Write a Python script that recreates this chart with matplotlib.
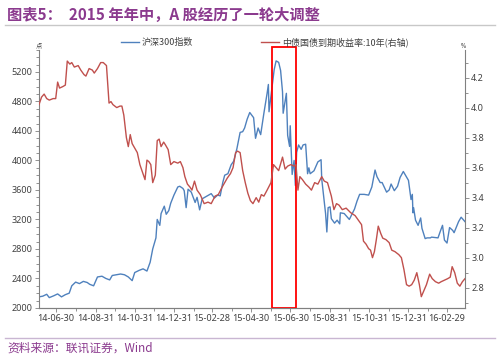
import pandas as pd
import matplotlib
matplotlib.use("Agg")
from matplotlib import pyplot as plt
import matplotlib.dates as mdates
from matplotlib.patches import Rectangle
from matplotlib.ticker import MultipleLocator
import matplotlib.transforms as mtransforms

plt.rcParams['font.family'] = ['Noto Sans', 'Noto Sans CJK SC', 'DejaVu Sans']

# 沪深300指数 (left axis)
hs300_dates = [
    "2014-06-04", "2014-06-10", "2014-06-16", "2014-06-20", "2014-06-27", "2014-07-03",
    "2014-07-09", "2014-07-15", "2014-07-21", "2014-07-25", "2014-07-31", "2014-08-06",
    "2014-08-12", "2014-08-18", "2014-08-22", "2014-08-28", "2014-09-03", "2014-09-10",
    "2014-09-16", "2014-09-22", "2014-09-26", "2014-10-09", "2014-10-15", "2014-10-21",
    "2014-10-27", "2014-10-31", "2014-11-07", "2014-11-13", "2014-11-19", "2014-11-24",
    "2014-11-28", "2014-12-03", "2014-12-05", "2014-12-09", "2014-12-11", "2014-12-16",
    "2014-12-19", "2014-12-23", "2014-12-26", "2014-12-31", "2015-01-06", "2015-01-09",
    "2015-01-14", "2015-01-16", "2015-01-19", "2015-01-22", "2015-01-27", "2015-02-02",
    "2015-02-05", "2015-02-09", "2015-02-13", "2015-02-17", "2015-02-27", "2015-03-04",
    "2015-03-09", "2015-03-13", "2015-03-17", "2015-03-20", "2015-03-25", "2015-03-30",
    "2015-04-03", "2015-04-08", "2015-04-13", "2015-04-17", "2015-04-20", "2015-04-24",
    "2015-04-28", "2015-05-04", "2015-05-07", "2015-05-11", "2015-05-15", "2015-05-20",
    "2015-05-25", "2015-05-27", "2015-05-28", "2015-06-02", "2015-06-05", "2015-06-08",
    "2015-06-12", "2015-06-15", "2015-06-18", "2015-06-19", "2015-06-24", "2015-06-26",
    "2015-06-29", "2015-06-30", "2015-07-02", "2015-07-03", "2015-07-06", "2015-07-08",
    "2015-07-10", "2015-07-13", "2015-07-17", "2015-07-20", "2015-07-24", "2015-07-27",
    "2015-07-29", "2015-07-31", "2015-08-06", "2015-08-12", "2015-08-17", "2015-08-18",
    "2015-08-21", "2015-08-24", "2015-08-26", "2015-08-28", "2015-08-31", "2015-09-02",
    "2015-09-07", "2015-09-11", "2015-09-15", "2015-09-16", "2015-09-22", "2015-09-30",
    "2015-10-08", "2015-10-12", "2015-10-16", "2015-10-23", "2015-10-30", "2015-11-04",
    "2015-11-09", "2015-11-12", "2015-11-17", "2015-11-20", "2015-11-27", "2015-12-01",
    "2015-12-04", "2015-12-09", "2015-12-14", "2015-12-18", "2015-12-23", "2015-12-31",
    "2016-01-04", "2016-01-06", "2016-01-07", "2016-01-08", "2016-01-11", "2016-01-15",
    "2016-01-19", "2016-01-21", "2016-01-26", "2016-01-29", "2016-02-03", "2016-02-05",
    "2016-02-15", "2016-02-19", "2016-02-22", "2016-02-25", "2016-02-29", "2016-03-04",
    "2016-03-09", "2016-03-11", "2016-03-18", "2016-03-22", "2016-03-28",
]
hs300_values = [
    2150, 2160, 2185, 2140, 2165, 2190,
    2150, 2180, 2200, 2300, 2350, 2330,
    2360, 2345, 2320, 2300, 2420, 2430,
    2400, 2380, 2440, 2460, 2450, 2420,
    2370, 2480, 2510, 2530, 2500, 2620,
    2800, 2950, 3200, 3120, 3280, 3380,
    3270, 3320, 3420, 3530, 3640, 3650,
    3620, 3590, 3360, 3610, 3570, 3430,
    3500, 3330, 3480, 3500, 3550, 3490,
    3530, 3520, 3700, 3800, 3820, 3940,
    3990, 4160, 4380, 4390, 4440, 4560,
    4650, 4580, 4300, 4440, 4350, 4640,
    4910, 5030, 4660, 5010, 5230, 5350,
    5330, 5220, 4930, 4640, 4910, 4340,
    4190, 4470, 4050, 3810, 4000, 3660,
    4110, 4210, 4150, 4210, 4220, 3820,
    3900, 3820, 3860, 3980, 4010, 3750,
    3520, 3280, 3030, 3360, 3370, 3210,
    3150, 3190, 3140, 3290, 3280, 3200,
    3340, 3450, 3540, 3540, 3530, 3640,
    3870, 3780, 3700, 3700, 3570, 3600,
    3680, 3590, 3650, 3770, 3850, 3730,
    3470, 3540, 3290, 3360, 3190, 3120,
    3220, 3080, 2940, 2950, 2950, 2960,
    2950, 3050, 3120, 2920, 2880, 3090,
    3050, 3020, 3170, 3230, 3170,
]

# 中债国债到期收益率:10年 (right axis, %)
yield_dates = [
    "2014-06-04", "2014-06-08", "2014-06-12", "2014-06-16", "2014-06-20", "2014-06-26",
    "2014-06-30", "2014-07-03", "2014-07-06", "2014-07-11", "2014-07-15", "2014-07-18",
    "2014-07-22", "2014-07-25", "2014-07-29", "2014-08-04", "2014-08-08", "2014-08-13",
    "2014-08-16", "2014-08-21", "2014-08-26", "2014-08-29", "2014-09-03", "2014-09-08",
    "2014-09-12", "2014-09-17", "2014-09-21", "2014-09-24", "2014-09-27", "2014-10-03",
    "2014-10-08", "2014-10-11", "2014-10-14", "2014-10-18", "2014-10-21", "2014-10-24",
    "2014-10-27", "2014-10-31", "2014-11-04", "2014-11-08", "2014-11-12", "2014-11-16",
    "2014-11-19", "2014-11-22", "2014-11-25", "2014-11-28", "2014-12-02", "2014-12-05",
    "2014-12-08", "2014-12-11", "2014-12-15", "2014-12-18", "2014-12-22", "2014-12-26",
    "2014-12-31", "2015-01-06", "2015-01-10", "2015-01-14", "2015-01-17", "2015-01-21",
    "2015-01-25", "2015-01-28", "2015-02-01", "2015-02-05", "2015-02-10", "2015-02-16",
    "2015-02-22", "2015-02-27", "2015-03-05", "2015-03-10", "2015-03-16", "2015-03-20",
    "2015-03-24", "2015-03-29", "2015-04-02", "2015-04-06", "2015-04-09", "2015-04-13",
    "2015-04-17", "2015-04-21", "2015-04-25", "2015-04-29", "2015-05-03", "2015-05-08",
    "2015-05-12", "2015-05-16", "2015-05-20", "2015-05-25", "2015-05-31", "2015-06-04",
    "2015-06-08", "2015-06-12", "2015-06-16", "2015-06-18", "2015-06-22", "2015-06-26",
    "2015-07-01", "2015-07-06", "2015-07-09", "2015-07-12", "2015-07-15", "2015-07-19",
    "2015-07-24", "2015-07-29", "2015-08-02", "2015-08-07", "2015-08-12", "2015-08-18",
    "2015-08-22", "2015-08-27", "2015-09-02", "2015-09-06", "2015-09-10", "2015-09-14",
    "2015-09-19", "2015-09-25", "2015-10-02", "2015-10-09", "2015-10-14", "2015-10-19",
    "2015-10-22", "2015-10-26", "2015-10-30", "2015-11-02", "2015-11-05", "2015-11-08",
    "2015-11-11", "2015-11-14", "2015-11-18", "2015-11-21", "2015-11-26", "2015-12-01",
    "2015-12-05", "2015-12-10", "2015-12-16", "2015-12-20", "2015-12-24", "2015-12-28",
    "2016-01-01", "2016-01-05", "2016-01-09", "2016-01-13", "2016-01-17", "2016-01-20",
    "2016-01-24", "2016-01-28", "2016-02-02", "2016-02-06", "2016-02-11", "2016-02-16",
    "2016-02-20", "2016-02-25", "2016-03-01", "2016-03-05", "2016-03-08", "2016-03-12",
    "2016-03-16", "2016-03-20", "2016-03-24", "2016-03-28",
]
yield_values = [
    4.02, 4.07, 4.09, 4.06, 4.05, 4.06,
    4.06, 4.17, 4.13, 4.14, 4.15, 4.31,
    4.29, 4.30, 4.27, 4.28, 4.25, 4.22,
    4.21, 4.26, 4.25, 4.23, 4.26, 4.30,
    4.30, 4.28, 4.03, 4.04, 4.02, 4.00,
    4.01, 4.01, 3.95, 3.80, 3.74, 3.82,
    3.76, 3.73, 3.70, 3.62, 3.57, 3.52,
    3.65, 3.64, 3.62, 3.50, 3.55, 3.78,
    3.79, 3.74, 3.77, 3.75, 3.72, 3.62,
    3.64, 3.63, 3.64, 3.60, 3.54, 3.49,
    3.47, 3.45, 3.51, 3.45, 3.42, 3.36,
    3.37, 3.36, 3.41, 3.42, 3.47, 3.50,
    3.53, 3.56, 3.60, 3.70, 3.71, 3.70,
    3.58, 3.50, 3.43, 3.38, 3.36, 3.40,
    3.37, 3.42, 3.41, 3.45, 3.50, 3.62,
    3.60, 3.58, 3.64, 3.67, 3.59, 3.61,
    3.62, 3.61, 3.62, 3.45, 3.54, 3.52,
    3.49, 3.47, 3.45, 3.50, 3.49, 3.54,
    3.51, 3.50, 3.41, 3.32, 3.36, 3.35,
    3.32, 3.33, 3.30, 3.28, 3.25, 3.22,
    3.11, 3.09, 3.06, 3.05, 3.00, 3.04,
    3.12, 3.21, 3.16, 3.13, 3.12, 3.10,
    3.05, 3.04, 3.02, 3.00, 2.92, 2.82,
    2.81, 2.82, 2.85, 2.90, 2.82, 2.74,
    2.78, 2.82, 2.89, 2.86, 2.84, 2.83,
    2.84, 2.85, 2.86, 2.87, 2.94, 2.90,
    2.83, 2.81, 2.84, 2.86,
]

# highlighted window (mid-2015 correction)
box_start, box_end = "2015-06-01", "2015-07-09"

title = "图表5：  2015 年年中，A 股经历了一轮大调整"
source = "资料来源：联讯证券，Wind"
label_hs300 = "沪深300指数"
label_yield = "中债国债到期收益率:10年(右轴)"

purple = "#8B3A8E"
blue = "#4F81BD"
red = "#C0504D"
grey = "#404040"

hs_x = pd.to_datetime(hs300_dates)
yd_x = pd.to_datetime(yield_dates)

fig = plt.figure(figsize=(5, 3.61), dpi=100)
ax = fig.add_axes([0.078, 0.147, 0.852, 0.715])
ax2 = ax.twinx()

l1, = ax.plot(hs_x, hs300_values, color=blue, lw=1.0)
l2, = ax2.plot(yd_x, yield_values, color=red, lw=1.0)

ax.set_xlim(pd.Timestamp("2014-06-04"), pd.Timestamp("2016-03-28"))
ax.set_ylim(2000, 5500)
ax2.set_ylim(2.665, 4.385)

ax.yaxis.set_major_locator(MultipleLocator(400))
ax.yaxis.set_minor_locator(MultipleLocator(100))
ax2.yaxis.set_major_locator(MultipleLocator(0.2))
ax2.yaxis.set_minor_locator(MultipleLocator(0.1))
ax2.yaxis.set_major_formatter(matplotlib.ticker.FormatStrFormatter('%.1f'))

month_ends = pd.date_range("2014-06-30", "2016-03-31", freq="ME")
ax.xaxis.set_major_locator(matplotlib.ticker.FixedLocator(mdates.date2num(month_ends[::2])))
ax.xaxis.set_minor_locator(matplotlib.ticker.FixedLocator(mdates.date2num(month_ends[1::2])))
ax.xaxis.set_major_formatter(mdates.DateFormatter('%y-%m-%d'))

for a in (ax, ax2):
    for s in a.spines.values():
        s.set_color('#808080')
        s.set_linewidth(0.8)
    a.spines['top'].set_visible(False)
    a.tick_params(which='both', colors='#808080', labelcolor=grey, labelsize=6.5,
                  direction='out', width=0.6)
    a.tick_params(which='major', length=3, pad=1.5)
    a.tick_params(which='minor', length=2)
ax.spines['right'].set_visible(False)
ax2.spines['left'].set_visible(False)

# red box around the correction window
trans = mtransforms.blended_transform_factory(ax.transData, ax.transAxes)
x0 = mdates.date2num(pd.Timestamp(box_start))
x1 = mdates.date2num(pd.Timestamp(box_end))
ax.add_patch(Rectangle((x0, 0.0), x1 - x0, 1.01, transform=trans, fill=False,
                       edgecolor='#FF0000', lw=1.3, clip_on=False, zorder=5))

# units
ax.text(0.0, 1.0, "点", transform=ax.transAxes, fontsize=4.5, color=grey,
        ha='center', va='bottom', family=['Noto Sans CJK SC'])
ax2.text(0.995, 1.0, "%", transform=ax2.transAxes, fontsize=4.5, color=grey,
         ha='center', va='bottom')

fig.legend([l1, l2], [label_hs300, label_yield], loc='center left',
           bbox_to_anchor=(0.232, 0.884), ncol=2, frameon=False,
           handlelength=2.0, handletextpad=0.3, columnspacing=7.6, borderpad=0,
           prop={'family': ['Noto Sans CJK SC'], 'size': 6.5})
for t in fig.legends[0].get_texts():
    t.set_color(grey)

fig.text(0.014, 0.958, title, fontsize=11, fontweight='bold', color=purple,
         ha='left', va='center', family=['Noto Sans CJK SC'])
fig.add_artist(plt.Line2D([0.01, 0.99], [0.931, 0.931], color='#C8C8C8', lw=1.0))
fig.add_artist(plt.Line2D([0.01, 0.99], [0.064, 0.064], color='#C9B6D2', lw=1.0))
fig.text(0.014, 0.036, source, fontsize=8.5, color=purple, style='italic',
         ha='left', va='center', family=['Noto Sans CJK SC'])

fig.savefig("out.png", dpi=100)
